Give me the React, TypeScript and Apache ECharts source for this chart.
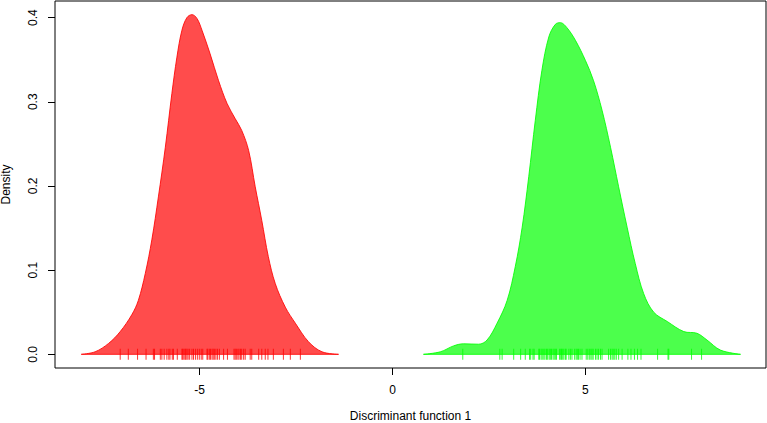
import React, { useEffect, useRef } from "react";
import * as echarts from "echarts";

// Density curve of group 1 (red): [x, density]
const redDensity: [number, number][] = [
  [-8.07, 0], [-7.71, 0.003], [-7.36, 0.013], [-7.06, 0.027], [-6.76, 0.047],
  [-6.59, 0.064], [-6.41, 0.096], [-6.24, 0.136], [-6.07, 0.187], [-5.89, 0.246],
  [-5.72, 0.31], [-5.59, 0.353], [-5.46, 0.385], [-5.33, 0.4], [-5.2, 0.4035],
  [-5.07, 0.399], [-4.94, 0.385], [-4.73, 0.357], [-4.51, 0.325], [-4.29, 0.298],
  [-4.08, 0.28], [-3.91, 0.266], [-3.73, 0.242], [-3.56, 0.199], [-3.39, 0.159],
  [-3.22, 0.116], [-3.04, 0.084], [-2.78, 0.056], [-2.52, 0.037], [-2.18, 0.015],
  [-1.83, 0.003], [-1.4, 0],
];

// Density curve of group 2 (green): [x, density]
const greenDensity: [number, number][] = [
  [0.8, 0], [1.24, 0.003], [1.58, 0.01], [1.84, 0.0125], [2.23, 0.012],
  [2.45, 0.017], [2.71, 0.037], [2.97, 0.064], [3.18, 0.104], [3.36, 0.151],
  [3.53, 0.211], [3.7, 0.278], [3.87, 0.337], [4.05, 0.377], [4.22, 0.392],
  [4.35, 0.394], [4.52, 0.388], [4.74, 0.373], [5.0, 0.349], [5.21, 0.325],
  [5.43, 0.29], [5.65, 0.246], [5.86, 0.199], [6.08, 0.151], [6.29, 0.108],
  [6.51, 0.072], [6.77, 0.05], [7.12, 0.039], [7.55, 0.027], [7.89, 0.025],
  [8.15, 0.017], [8.5, 0.005], [9.02, 0],
];

// Observed scores (rug marks)
const redRug: number[] = [
  -7.06, -6.85, -6.61, -6.39, -6.2, -6.17, -6.02, -5.98, -5.92, -5.85, -5.8, -5.77,
  -5.71, -5.68, -5.58, -5.46, -5.44, -5.41, -5.38, -5.36, -5.33, -5.3, -5.26, -5.2,
  -5.16, -5.11, -5.06, -5.01, -4.96, -4.92, -4.81, -4.79, -4.75, -4.72, -4.68, -4.65,
  -4.62, -4.58, -4.54, -4.49, -4.38, -4.28, -4.11, -4.08, -4.05, -4.01, -3.98, -3.94,
  -3.91, -3.86, -3.82, -3.69, -3.65, -3.47, -3.39, -3.3, -3.23, -3.09, -2.83, -2.65,
  -2.39,
];
const greenRug: number[] = [
  1.82, 2.78, 2.84, 3.14, 3.32, 3.44, 3.55, 3.58, 3.64, 3.67, 3.79, 3.81, 3.85, 3.88,
  3.92, 3.95, 3.99, 4.02, 4.06, 4.09, 4.12, 4.16, 4.19, 4.22, 4.25, 4.33, 4.36, 4.38,
  4.41, 4.44, 4.48, 4.5, 4.57, 4.61, 4.65, 4.72, 4.76, 4.79, 4.82, 4.86, 4.91, 5.02,
  5.06, 5.1, 5.14, 5.17, 5.2, 5.26, 5.3, 5.34, 5.39, 5.43, 5.6, 5.65, 5.69, 5.72,
  5.76, 5.8, 5.86, 5.95, 6.1, 6.18, 6.27, 6.35, 6.44, 6.87, 7.14, 7.16, 7.75, 8.01,
];

const xTicks = [-5, 0, 5];
const yTicks = [0, 0.1, 0.2, 0.3, 0.4];
const xRange: [number, number] = [-8.75, 9.68];
const yRange: [number, number] = [-0.01625, 0.4197];
const xTitle = "Discriminant function 1";
const yTitle = "Density";

const FONT = "'Liberation Sans', Arial, Helvetica, sans-serif";

export default function App() {
  const ref = useRef<HTMLDivElement>(null);
  useEffect(() => {
    if (!ref.current) return;
    const chart = echarts.init(ref.current, null, { renderer: "svg" });
    const curve = (data: [number, number][], stroke: string, fill: string) => ({
      type: "line",
      data,
      smooth: 0.35,
      symbol: "none",
      lineStyle: { color: stroke, width: 1 },
      areaStyle: { color: fill, opacity: 1 },
      z: 2,
    });
    const base = (data: [number, number][], stroke: string) => ({
      type: "line",
      data: [[data[0][0], 0], [data[data.length - 1][0], 0]],
      symbol: "none",
      lineStyle: { color: stroke, width: 1 },
      z: 3,
    });
    const rug = (vals: number[], color: string) => ({
      type: "scatter",
      data: vals.map((v) => [v, 0]),
      symbol: "rect",
      symbolSize: [1, 11],
      itemStyle: { color },
      z: 4,
    });
    chart.setOption({
      animation: false,
      backgroundColor: "#ffffff",
      textStyle: { fontFamily: FONT },
      grid: {
        left: 55,
        right: 1,
        top: 1,
        bottom: 55,
        containLabel: false,
        outerBoundsMode: "none",
        show: true,
        borderColor: "#000",
        borderWidth: 1,
        backgroundColor: "transparent",
      },
      xAxis: {
        type: "value",
        min: xRange[0],
        max: xRange[1],
        name: xTitle,
        nameLocation: "middle",
        nameGap: 42,
        nameTextStyle: { color: "#000", fontSize: 12, fontFamily: FONT },
        axisLine: { show: false, onZero: false },
        axisTick: { show: true, customValues: xTicks, length: 7, lineStyle: { color: "#000" } },
        axisLabel: {
          customValues: xTicks,
          color: "#000",
          fontSize: 12,
          fontFamily: FONT,
          margin: 16,
          formatter: (v: number) => (v < 0 ? "-" + Math.abs(v) : String(v)),
        },
        splitLine: { show: false },
      },
      yAxis: {
        type: "value",
        min: yRange[0],
        max: yRange[1],
        name: yTitle,
        nameLocation: "middle",
        nameGap: 43,
        nameRotate: 90,
        nameTextStyle: { color: "#000", fontSize: 12, fontFamily: FONT },
        axisLine: { show: false, onZero: false },
        axisTick: { show: true, customValues: yTicks, length: 7, lineStyle: { color: "#000" } },
        axisLabel: {
          customValues: yTicks,
          color: "#000",
          fontSize: 12,
          fontFamily: FONT,
          rotate: 90,
          margin: 16,
          formatter: (v: number) => v.toFixed(1),
        },
        splitLine: { show: false },
      },
      series: [
        curve(redDensity, "rgba(255,0,0,0.85)", "rgba(255,0,0,0.7)"),
        base(redDensity, "rgba(255,0,0,0.85)"),
        rug(redRug, "#ff0000"),
        curve(greenDensity, "rgba(0,255,0,0.85)", "rgba(0,255,0,0.7)"),
        base(greenDensity, "rgba(0,255,0,0.85)"),
        rug(greenRug, "#00ff00"),
      ],
    });
    return () => chart.dispose();
  }, []);
  return <div ref={ref} style={{ width: 767, height: 423, position: "absolute", left: 0, top: 0 }} />;
}
